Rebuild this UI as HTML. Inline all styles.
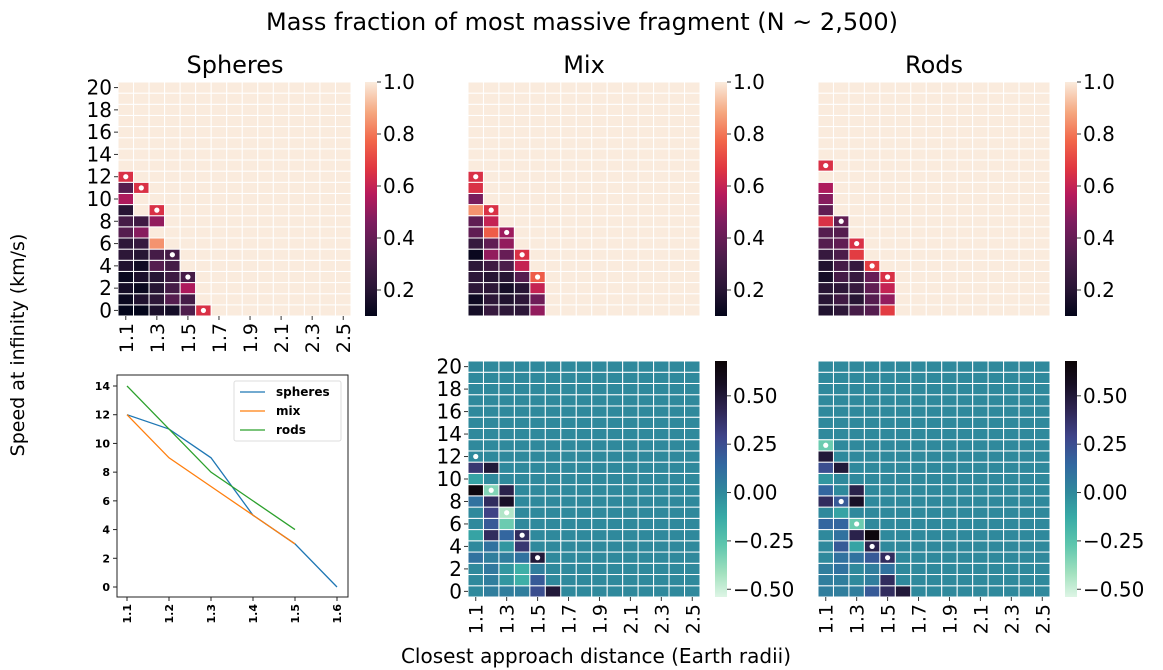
<!DOCTYPE html>
<html><head><meta charset="utf-8"><style>
html,body{margin:0;padding:0;background:#fff}
svg{display:block;font-family:"DejaVu Sans","Liberation Sans",sans-serif}
</style></head><body>
<svg id="fig" width="1163" height="670" viewBox="0 0 1163 670" xmlns="http://www.w3.org/2000/svg">
<text x="582" y="30" font-size="24" text-anchor="middle">Mass fraction of most massive fragment (N ~ 2,500)</text>
<text x="235" y="73" font-size="24" text-anchor="middle">Spheres</text>
<text x="584" y="73" font-size="24" text-anchor="middle">Mix</text>
<text x="934" y="73" font-size="24" text-anchor="middle">Rods</text>
<text transform="translate(24,345) rotate(-90)" font-size="19" text-anchor="middle">Speed at infinity (km/s)</text>
<text x="596" y="663" font-size="20" text-anchor="middle">Closest approach distance (Earth radii)</text>
<g id="g"></g>
</svg>
<script>
// ---- data ----
const distances = [1.1,1.2,1.3,1.4,1.5,1.6,1.7,1.8,1.9,2.0,2.1,2.2,2.3,2.4,2.5];
const speeds = [0,1,2,3,4,5,6,7,8,9,10,11,12,13,14,15,16,17,18,19,20];
const xTickLabels = ["1.1","1.3","1.5","1.7","1.9","2.1","2.3","2.5"];
const yTickLabels = ["0","2","4","6","8","10","12","14","16","18","20"];
// rows indexed by speed; values for columns starting at 1.1; remaining cells = 1.0
const spheresRows = [
 [0.10,0.10,0.17,0.15,0.33,0.65],[0.12,0.18,0.22,0.35,0.30,1.0],[0.15,0.12,0.20,0.30,0.55],
 [0.12,0.17,0.20,0.27,0.30],[0.18,0.14,0.35,0.30],[0.22,0.20,0.30,0.30],[0.22,0.25,0.85],
 [0.35,0.48],[0.30,0.28,0.50],[0.20,1.0,0.65],[0.55],[0.35,0.65],[0.65]];
const mixRows = [
 [0.15,0.25,0.22,0.22,0.50],[0.13,0.22,0.18,0.22,0.42],[0.22,0.22,0.15,0.20,0.60],
 [0.22,0.20,0.20,0.35,0.75],[0.22,0.28,0.32,0.60],[0.12,0.50,0.40,0.65],[0.25,0.38,0.50],
 [0.38,0.75,0.52],[0.38,0.60],[0.85,0.65],[0.45],[0.65],[0.65]];
const rodsRows = [
 [0.18,0.22,0.30,0.35,0.68],[0.20,0.28,0.20,0.35,0.50],[0.20,0.22,0.25,0.38,0.60],
 [0.15,0.30,0.25,0.40,0.65],[0.18,0.30,0.25,0.68],[0.25,0.32,0.68],[0.35,0.38,0.65],
 [0.35,0.35],[0.65,0.38],[0.38],[0.48],[0.55],[1.0],[0.65]];
// difference maps: remaining cells = 0
const mixDiffRows = [
 [0,0.05,0.05,0.05,0.25,0.50],[0,0.05,-0.05,-0.15,0.20],[0,0.07,-0.05,-0.15,0.05],
 [0.10,0.05,0.05,0.10,0.50],[0,0.10,-0.05,0.35],[-0.10,0.40,0.15,0.40],[0,0.20,-0.30],
 [0,0.30,-0.45],[0.10,0.40,0.55],[0.65,-0.35,0.45],[-0.10],[0.35,0.50],[0]];
const rodsDiffRows = [
 [0.05,0.05,0.05,0.20,0.40,0.50],[0.05,0.05,0,0.05,0.40],[0.05,0.10,0,0.05,0.10],
 [0,0.10,0.10,0.20,0.40],[0,0.20,-0.10,0.45],[0,0.10,0.45,0.65],[0.15,0.15,-0.30],
 [0,-0.10],[0.40,0.20,0.55],[0.15,0,0.45],[-0.05],[0.25,0.50],[0.50],[-0.30]];
const spheresDotsX = [1.1,1.2,1.3,1.4,1.5,1.6], spheresDotsY = [12,11,9,5,3,0];
const mixDotsX = [1.1,1.2,1.3,1.4,1.5], mixDotsY = [12,9,7,5,3];
const rodsDotsX = [1.1,1.2,1.3,1.4,1.5], rodsDotsY = [13,8,6,4,3];
const lineX = [1.1,1.2,1.3,1.4,1.5,1.6];
const lineSpheres = [12,11,9,5,3,0];
const lineMix = [12,9,7,5,3];
const lineRods = [14,11,8,6,4];
const lineYTicks = [0,2,4,6,8,10,12,14];
const fracTicks = [1.0,0.8,0.6,0.4,0.2];
const diffTicks = [0.5,0.25,0,-0.25,-0.5];

// ---- helpers ----
const NS="http://www.w3.org/2000/svg", G=document.getElementById('g');
function mk(tag,attrs,parent){const e=document.createElementNS(NS,tag);for(const k in attrs)e.setAttribute(k,attrs[k]);(parent||G).appendChild(e);return e;}
function hex(h){return [1,3,5].map(i=>parseInt(h.substr(i,2),16));}
function interp(stops,t){t=Math.max(0,Math.min(1,t));for(let i=1;i<stops.length;i++){if(t<=stops[i][0]){const a=stops[i-1],b=stops[i],f=(t-a[0])/(b[0]-a[0]);const ca=hex(a[1]),cb=hex(b[1]);return 'rgb('+ca.map((c,j)=>Math.round(c+(cb[j]-c)*f)).join(',')+')';}}return stops[stops.length-1][1];}
const rocket=[[0,'#03051a'],[0.12,'#2a1636'],[0.25,'#4c1d4b'],[0.4,'#7c1d5e'],[0.52,'#b71a5c'],[0.63,'#e03641'],[0.75,'#f2674a'],[0.87,'#f5a77f'],[1,'#faebdd']];
const makoR=[[0,'#def5e5'],[0.1,'#a3e1bf'],[0.22,'#5ec6ad'],[0.34,'#38aaa6'],[0.44,'#2f8a9c'],[0.56,'#3268a0'],[0.68,'#3f4489'],[0.8,'#2d2450'],[0.9,'#170f24'],[1,'#0b0405']];
const FMIN=0.1,FMAX=1.0,DMIN=-0.54,DMAX=0.68;
const fracColor=v=>interp(rocket,(v-FMIN)/(FMAX-FMIN));
const diffColor=v=>interp(makoR,(v-DMIN)/(DMAX-DMIN));

function heatmap(name,x0,y0,w,h,rows,def,colorFn,dotsX,dotsY,showY,showX){
  const cw=w/distances.length, ch=h/speeds.length;
  const xs=d=>x0+Math.round((d-1.1)*10)*cw, ys=s=>y0+(20-s)*ch;
  const grp=mk('g',{});
  
  
  speeds.forEach(s=>{distances.forEach((d,ci)=>{
    const r=rows[s]||[]; const v=ci<r.length?r[ci]:def;
    const c=mk('rect',{x:xs(d),y:ys(s),width:cw,height:ch,fill:colorFn(v),stroke:'#fff','stroke-width':1},grp);
    
    
  });});
  dotsX.forEach((d,i)=>{
    const c=mk('circle',{cx:xs(d)+cw/2,cy:ys(dotsY[i])+ch/2,r:2.6,fill:'#fff'},grp);
    
    
  });
  if(showY){yTickLabels.forEach(l=>{const s=+l;const y=ys(s)+ch/2;
    mk('line',{x1:x0-4,x2:x0,y1:y,y2:y,stroke:'#333'},grp);
    const t=mk('text',{x:x0-6,y:y+7,'font-size':20,'text-anchor':'end'},grp);t.textContent=l;
    
    });}
  if(showX){xTickLabels.forEach(l=>{const x=xs(+l)+cw/2;const yb=y0+h;
    mk('line',{x1:x,x2:x,y1:yb,y2:yb+4,stroke:'#333'},grp);
    const t=mk('text',{transform:`translate(${x+7},${yb+7}) rotate(-90)`,'font-size':19,'text-anchor':'end'},grp);t.textContent=l;
    
    });}
}
function colorbar(name,x0,y0,w,h,stops,vmin,vmax,ticks,fmt){
  const grp=mk('g',{});
  
  
  const id='gr'+name;const defs=mk('defs',{},grp);const lg=mk('linearGradient',{id:id,x1:0,y1:1,x2:0,y2:0},defs);
  stops.forEach(s=>mk('stop',{offset:s[0],'stop-color':s[1]},lg));
  mk('rect',{x:x0,y:y0,width:w,height:h,fill:`url(#${id})`},grp);
  ticks.forEach(v=>{const y=y0+h-(v-vmin)/(vmax-vmin)*h;
    mk('line',{x1:x0+w,x2:x0+w+4,y1:y,y2:y,stroke:'#333'},grp);
    const t=mk('text',{x:x0+w+6,y:y+7,'font-size':20},grp);t.textContent=fmt(v);
    
    });
}

heatmap('spheres-heatmap',118,82,233,234,spheresRows,1.0,fracColor,spheresDotsX,spheresDotsY,true,true);
heatmap('mix-heatmap',468,82,232,234,mixRows,1.0,fracColor,mixDotsX,mixDotsY,false,false);
heatmap('rods-heatmap',818,82,232,234,rodsRows,1.0,fracColor,rodsDotsX,rodsDotsY,false,false);
heatmap('mix-diff-heatmap',468,361,232,236,mixDiffRows,0,diffColor,mixDotsX,mixDotsY,true,true);
heatmap('rods-diff-heatmap',818,361,232,236,rodsDiffRows,0,diffColor,rodsDotsX,rodsDotsY,false,true);
colorbar('spheres-colorbar',365,82,12,234,rocket,FMIN,FMAX,fracTicks,v=>v.toFixed(1));
colorbar('mix-colorbar',715,82,12,234,rocket,FMIN,FMAX,fracTicks,v=>v.toFixed(1));
colorbar('rods-colorbar',1065,82,12,234,rocket,FMIN,FMAX,fracTicks,v=>v.toFixed(1));
colorbar('mix-diff-colorbar',715,361,12,236,makoR,DMIN,DMAX,diffTicks,v=>v.toFixed(2).replace('-','\u2212'));
colorbar('rods-diff-colorbar',1065,361,12,236,makoR,DMIN,DMAX,diffTicks,v=>v.toFixed(2).replace('-','\u2212'));

// ---- line plot ----
(function(){
  const L=117,R=348,T=375,B=597;
  const px=d=>127+(d-1.1)/0.5*210, py=v=>587-v/14*201;
  const grp=mk('g',{});
  
  
  mk('rect',{x:L,y:T,width:R-L,height:B-T,fill:'none',stroke:'#222','stroke-width':1},grp);
  lineYTicks.forEach(v=>{const y=py(v);mk('line',{x1:L-4,x2:L,y1:y,y2:y,stroke:'#222'},grp);
    const t=mk('text',{x:L-7,y:y+4,'font-size':11,'font-weight':'bold','text-anchor':'end'},grp);t.textContent=v;
    
    });
  lineX.forEach(d=>{const x=px(d);mk('line',{x1:x,x2:x,y1:B,y2:B+4,stroke:'#222'},grp);
    const t=mk('text',{transform:`translate(${x+4},${B+7}) rotate(-90)`,'font-size':11,'font-weight':'bold','text-anchor':'end'},grp);t.textContent=d.toFixed(1);
    
    });
  const series=[['spheres',lineSpheres,'#1f77b4'],['mix',lineMix,'#ff7f0e'],['rods',lineRods,'#2ca02c']];
  series.forEach(s=>{const p=mk('polyline',{points:s[1].map((v,i)=>px(lineX[i])+','+py(v)).join(' '),fill:'none',stroke:s[2],'stroke-width':1.3},grp);
    
    });
  const lg=mk('g',{},grp);
  
  
  mk('rect',{x:234,y:381,width:107,height:60,fill:'#fff',stroke:'#ddd',rx:2},lg);
  series.forEach((s,i)=>{const y=392+i*19;mk('line',{x1:240,x2:265,y1:y,y2:y,stroke:s[2],'stroke-width':1.3},lg);
    const t=mk('text',{x:276,y:y+4,'font-size':12,'font-weight':'bold'},lg);t.textContent=s[0];
    
    });
})();
</script>
</body></html>
